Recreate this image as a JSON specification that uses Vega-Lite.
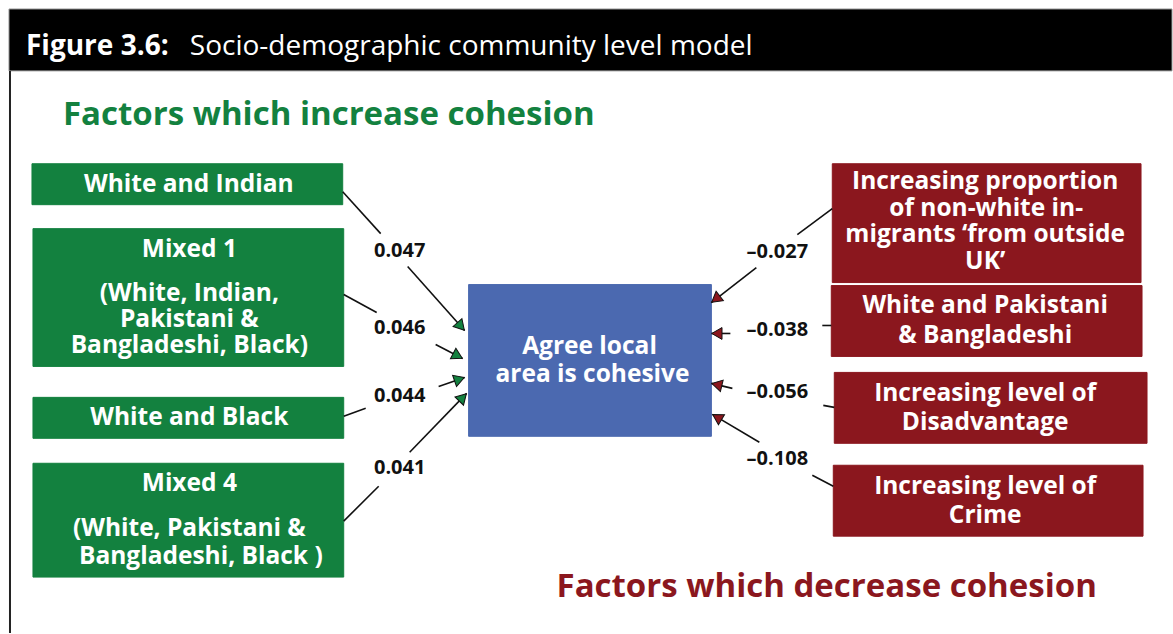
{
  "$schema": "https://vega.github.io/schema/vega-lite/v6.json",
  "autosize": {"type": "fit", "contains": "padding"},
  "width": 1173,
  "height": 634,
  "padding": 0,
  "background": "white",
  "config": {"view": {"stroke": null}},
  "datasets": {
    "boxes": [
      {"id": "header", "group": "header", "x": 9, "x2": 1173, "y": 9, "y2": 71},
      {"id": "White and Indian", "group": "increase", "x": 32, "x2": 343, "y": 164, "y2": 205},
      {"id": "Mixed 1", "group": "increase", "x": 33, "x2": 344, "y": 229, "y2": 367},
      {"id": "White and Black", "group": "increase", "x": 33, "x2": 344, "y": 398, "y2": 439},
      {"id": "Mixed 4", "group": "increase", "x": 33, "x2": 344, "y": 464, "y2": 578},
      {"id": "Agree local area is cohesive", "group": "outcome", "x": 469, "x2": 712, "y": 285, "y2": 437},
      {"id": "Non-white in-migrants", "group": "decrease", "x": 833, "x2": 1142, "y": 164, "y2": 283},
      {"id": "White and Pakistani & Bangladeshi", "group": "decrease", "x": 832, "x2": 1143, "y": 286, "y2": 357},
      {"id": "Disadvantage", "group": "decrease", "x": 835, "x2": 1148, "y": 373, "y2": 444},
      {"id": "Crime", "group": "decrease", "x": 834, "x2": 1144, "y": 466, "y2": 537}
    ],
    "frame": [
      {"x": 10, "y": 71, "x2": 10, "y2": 634}
    ],
    "segments": [
      {"coef": "0.047", "group": "increase", "x": 343, "y": 192, "x2": 381, "y2": 234},
      {"coef": "0.047", "group": "increase", "x": 408, "y": 267, "x2": 465, "y2": 331},
      {"coef": "0.046", "group": "increase", "x": 344, "y": 295, "x2": 377, "y2": 313},
      {"coef": "0.046", "group": "increase", "x": 436, "y": 345, "x2": 463, "y2": 359},
      {"coef": "0.044", "group": "increase", "x": 344, "y": 417, "x2": 366, "y2": 409},
      {"coef": "0.044", "group": "increase", "x": 439, "y": 387, "x2": 465, "y2": 378},
      {"coef": "0.041", "group": "increase", "x": 344, "y": 522, "x2": 379, "y2": 487},
      {"coef": "0.041", "group": "increase", "x": 410, "y": 453, "x2": 467, "y2": 394},
      {"coef": "-0.027", "group": "decrease", "x": 833, "y": 209, "x2": 798, "y2": 235},
      {"coef": "-0.027", "group": "decrease", "x": 757, "y": 268, "x2": 712, "y2": 303},
      {"coef": "-0.038", "group": "decrease", "x": 832, "y": 326, "x2": 823, "y2": 326},
      {"coef": "-0.038", "group": "decrease", "x": 731, "y": 334, "x2": 712, "y2": 334},
      {"coef": "-0.056", "group": "decrease", "x": 835, "y": 408, "x2": 824, "y2": 406},
      {"coef": "-0.056", "group": "decrease", "x": 733, "y": 389, "x2": 712, "y2": 384},
      {"coef": "-0.108", "group": "decrease", "x": 834, "y": 487, "x2": 813, "y2": 476},
      {"coef": "-0.108", "group": "decrease", "x": 760, "y": 443, "x2": 713, "y2": 415}
    ],
    "heads": [
      {"coef": "0.047", "group": "increase", "x": 461.3, "y": 326.9, "angle": 48.3},
      {"coef": "0.046", "group": "increase", "x": 458.1, "y": 356.5, "angle": 27.4},
      {"coef": "0.044", "group": "increase", "x": 459.8, "y": 379.8, "angle": 340.9},
      {"coef": "0.041", "group": "increase", "x": 463.2, "y": 398, "angle": 314},
      {"coef": "-0.027", "group": "decrease", "x": 716.3, "y": 299.6, "angle": 142.1},
      {"coef": "-0.038", "group": "decrease", "x": 717.5, "y": 334, "angle": 180},
      {"coef": "-0.056", "group": "decrease", "x": 717.4, "y": 385.3, "angle": 193.4},
      {"coef": "-0.108", "group": "decrease", "x": 717.7, "y": 417.8, "angle": 210.8}
    ],
    "coefs": [
      {"text": "0.047", "x": 400, "y": 257},
      {"text": "0.046", "x": 400, "y": 335},
      {"text": "0.044", "x": 400, "y": 403},
      {"text": "0.041", "x": 400, "y": 475},
      {"text": "–0.027", "x": 778, "y": 258},
      {"text": "–0.038", "x": 778, "y": 336.5},
      {"text": "–0.056", "x": 778, "y": 399},
      {"text": "–0.108", "x": 778, "y": 466}
    ],
    "boxtext": [
      {"text": "White and Indian", "x": 189, "y": 192.5},
      {"text": "Mixed 1", "x": 189.5, "y": 257},
      {"text": "(White, Indian,", "x": 189.5, "y": 301.5},
      {"text": "Pakistani &", "x": 189.5, "y": 328},
      {"text": "Bangladeshi, Black)", "x": 189.5, "y": 354},
      {"text": "White and Black", "x": 189.5, "y": 426},
      {"text": "Mixed 4", "x": 189.5, "y": 492},
      {"text": "(White, Pakistani &", "x": 189.5, "y": 536.5},
      {"text": "Bangladeshi, Black  )", "x": 201, "y": 565},
      {"text": "Agree local", "x": 590, "y": 355},
      {"text": "area is cohesive", "x": 593, "y": 383},
      {"text": "Increasing proportion", "x": 986, "y": 189.5},
      {"text": "of non-white in-", "x": 987, "y": 216},
      {"text": "migrants ‘from outside", "x": 986, "y": 242.5},
      {"text": "UK’", "x": 986, "y": 269.5},
      {"text": "White and Pakistani", "x": 986, "y": 313.5},
      {"text": "& Bangladeshi", "x": 986, "y": 343.5},
      {"text": "Increasing level of", "x": 986, "y": 401.5},
      {"text": "Disadvantage", "x": 986, "y": 431},
      {"text": "Increasing level of", "x": 986, "y": 494.5},
      {"text": "Crime", "x": 986, "y": 523.5}
    ],
    "titles": [
      {"text": "Factors which increase cohesion", "group": "increase", "x": 63, "y": 125},
      {"text": "Factors which decrease cohesion", "group": "decrease", "x": 557, "y": 598}
    ],
    "headbold": [
      {"text": "Figure 3.6:", "x": 26, "y": 55}
    ],
    "headregular": [
      {"text": "Socio-demographic community level model", "x": 190, "y": 55}
    ]
  },
  "encoding": {
    "x": {"field": "x", "type": "quantitative", "scale": {"domain": [0, 1173], "nice": false, "zero": false}, "axis": null},
    "y": {"field": "y", "type": "quantitative", "scale": {"domain": [0, 634], "nice": false, "zero": false, "reverse": true}, "axis": null}
  },
  "layer": [
    {
      "data": {"name": "boxes"},
      "mark": {"type": "rect", "strokeWidth": 1},
      "encoding": {
        "x2": {"field": "x2"},
        "y2": {"field": "y2"},
        "fill": {"field": "group", "type": "nominal", "legend": null,
          "scale": {"domain": ["header", "increase", "outcome", "decrease"], "range": ["#000000", "#13813F", "#4B69B0", "#8B171E"]}},
        "stroke": {"field": "group", "type": "nominal", "legend": null,
          "scale": {"domain": ["header", "increase", "outcome", "decrease"], "range": ["#999999", "#13813F", "#4B69B0", "#8B171E"]}}
      }
    },
    {
      "data": {"name": "frame"},
      "mark": {"type": "rule", "color": "#222222", "strokeWidth": 2},
      "encoding": {"x2": {"field": "x2"}, "y2": {"field": "y2"}}
    },
    {
      "data": {"name": "segments"},
      "mark": {"type": "rule", "color": "#111111", "strokeWidth": 1.6},
      "encoding": {"x2": {"field": "x2"}, "y2": {"field": "y2"}}
    },
    {
      "data": {"name": "heads"},
      "mark": {"type": "point", "shape": "triangle-right", "size": 140, "filled": true, "stroke": "#111111", "strokeWidth": 1, "opacity": 1},
      "encoding": {
        "angle": {"field": "angle", "type": "quantitative", "scale": null},
        "fill": {"field": "group", "type": "nominal", "legend": null,
          "scale": {"domain": ["increase", "decrease"], "range": ["#13813F", "#8B171E"]}}
      }
    },
    {
      "data": {"name": "coefs"},
      "mark": {"type": "text", "font": "Open Sans", "fontWeight": "bold", "fontSize": 20, "align": "center", "baseline": "alphabetic", "color": "#111111"},
      "encoding": {"text": {"field": "text"}}
    },
    {
      "data": {"name": "boxtext"},
      "mark": {"type": "text", "font": "Open Sans", "fontWeight": "bold", "fontSize": 24.5, "align": "center", "baseline": "alphabetic", "color": "#ffffff"},
      "encoding": {"text": {"field": "text"}}
    },
    {
      "data": {"name": "titles"},
      "mark": {"type": "text", "font": "Open Sans", "fontWeight": "bold", "fontSize": 33, "align": "left", "baseline": "alphabetic"},
      "encoding": {
        "text": {"field": "text"},
        "color": {"field": "group", "type": "nominal", "legend": null,
          "scale": {"domain": ["increase", "decrease"], "range": ["#13813F", "#8B171E"]}}
      }
    },
    {
      "data": {"name": "headbold"},
      "mark": {"type": "text", "font": "Open Sans", "fontWeight": "bold", "fontSize": 28, "align": "left", "baseline": "alphabetic", "color": "#ffffff"},
      "encoding": {"text": {"field": "text"}}
    },
    {
      "data": {"name": "headregular"},
      "mark": {"type": "text", "font": "Open Sans", "fontWeight": "normal", "fontSize": 28, "align": "left", "baseline": "alphabetic", "color": "#ffffff"},
      "encoding": {"text": {"field": "text"}}
    }
  ]
}
